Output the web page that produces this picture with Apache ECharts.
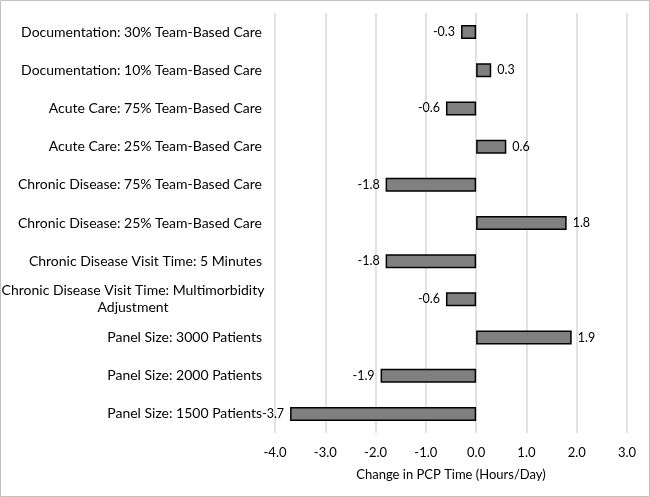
<!DOCTYPE html>
<html><head><meta charset="utf-8">
<script src="https://cdn.jsdelivr.net/npm/echarts@6/dist/echarts.min.js"></script>
<style>html,body{margin:0;padding:0;background:#fff}#c{width:650px;height:497px}</style>
</head><body><div id="c"></div>
<script>
const categories = [
  'Documentation: 30% Team-Based Care',
  'Documentation: 10% Team-Based Care',
  'Acute Care: 75% Team-Based Care',
  'Acute Care: 25% Team-Based Care',
  'Chronic Disease: 75% Team-Based Care',
  'Chronic Disease: 25% Team-Based Care',
  'Chronic Disease Visit Time: 5 Minutes',
  'Chronic Disease Visit Time: Multimorbidity\nAdjustment',
  'Panel Size: 3000 Patients',
  'Panel Size: 2000 Patients',
  'Panel Size: 1500 Patients'
];
const values = [-0.3, 0.3, -0.6, 0.6, -1.8, 1.8, -1.8, -0.6, 1.9, -1.9, -3.7];
const xTicks = { min: -4, max: 3, interval: 1 };
const axisTitle = 'Change in PCP Time (Hours/Day)';

const FONT = 'Lato';
const chart = echarts.init(document.getElementById('c'));
chart.setOption({
  animation: false,
  textStyle: { fontFamily: FONT },
  graphic: [{ type: 'rect', shape: { x: 0.5, y: 0.5, width: 649, height: 496 }, style: { fill: 'none', stroke: '#c0c0c0', lineWidth: 1 } }],
  grid: { left: 275, right: 23, top: 13, bottom: 64, outerBoundsMode: 'none' },
  xAxis: {
    type: 'value', min: xTicks.min, max: xTicks.max, interval: xTicks.interval,
    axisLine: { show: false }, axisTick: { show: false },
    splitLine: { lineStyle: { color: '#d9d9d9', width: 1.5 } },
    axisLabel: { color: '#000', fontSize: 13, fontFamily: FONT, margin: 13, formatter: v => v.toFixed(1) },
    name: axisTitle, nameLocation: 'middle', nameGap: 35,
    nameTextStyle: { color: '#000', fontSize: 13, fontFamily: FONT }
  },
  yAxis: {
    type: 'category', data: categories, inverse: true,
    axisLine: { show: false }, axisTick: { show: false },
    axisLabel: {
      color: '#000', fontSize: 14, fontFamily: FONT, margin: 13, lineHeight: 17,
      formatter: v => v.indexOf('\n') >= 0 ? v.split('\n').map(s => '{c|' + s + '}').join('\n') : v,
      rich: { c: { width: 258, align: 'center', fontSize: 14, fontFamily: FONT, color: '#000', lineHeight: 17 } }
    }
  },
  series: [{
    type: 'bar', data: values.map(v => ({
      value: v,
      label: { position: v < 0 ? 'left' : 'right' }
    })),
    barWidth: 14,
    itemStyle: { color: '#808080', borderColor: '#000', borderWidth: 1.5 },
    label: { show: true, color: '#000', fontSize: 12.5, fontFamily: FONT, distance: 6, formatter: p => p.value.toFixed(1) }
  }]
});
</script></body></html>
